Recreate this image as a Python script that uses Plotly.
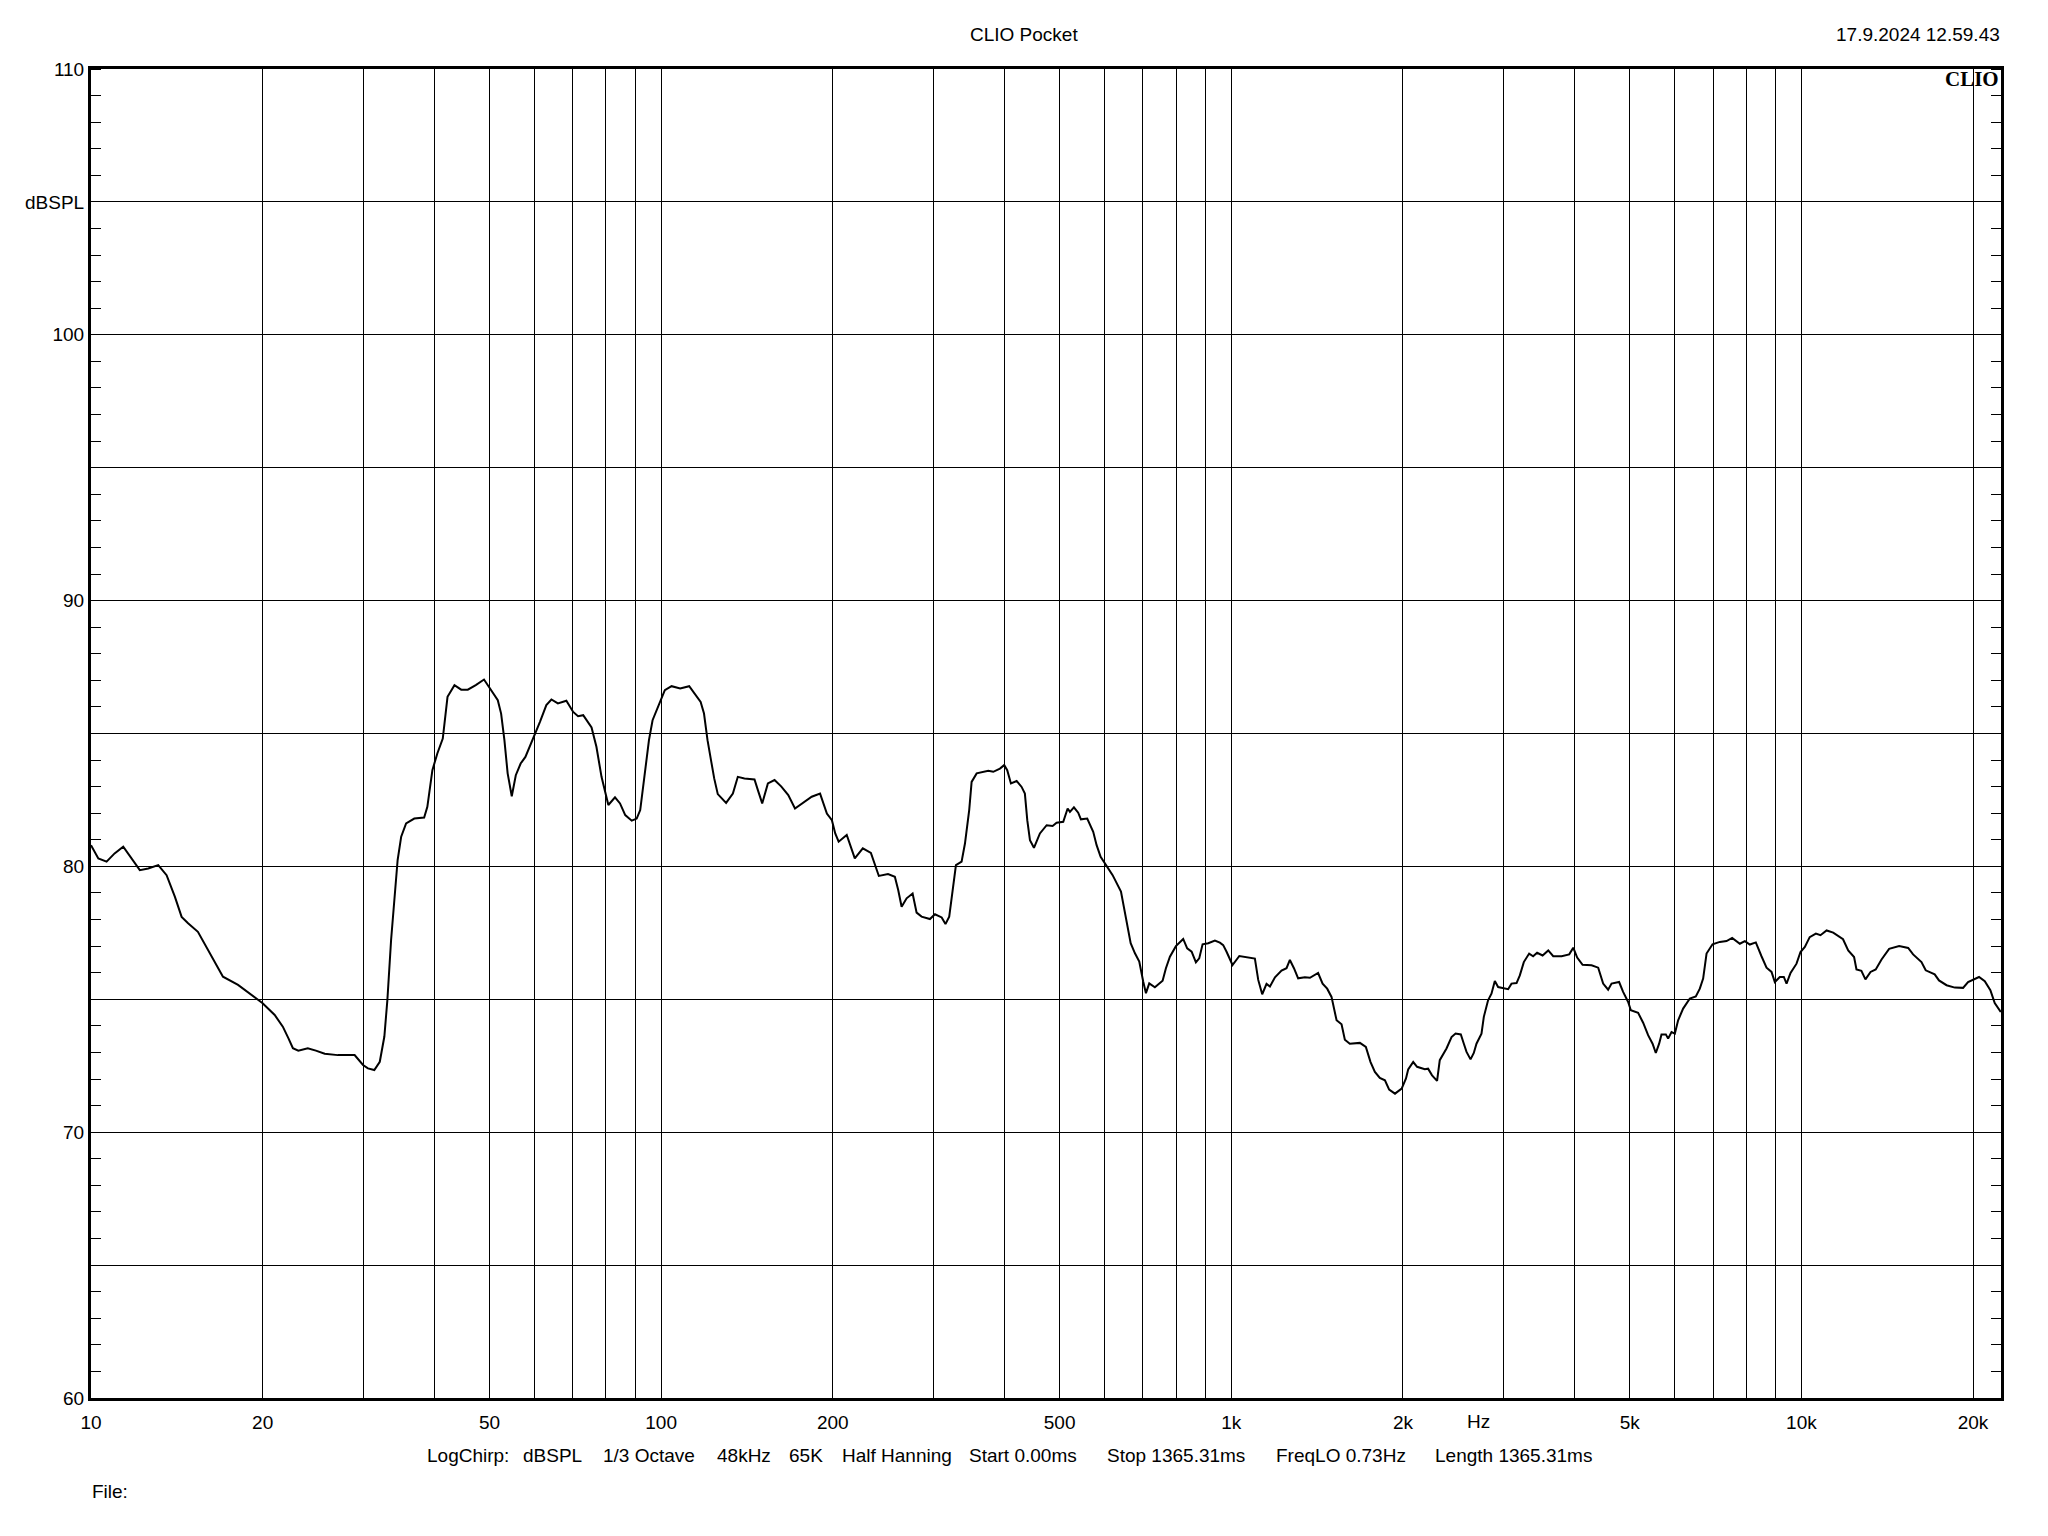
import math
import plotly.graph_objects as go

# ---------------- data ----------------
freq_hz = [
    10.0, 10.3, 10.65, 11.0, 11.39, 11.78, 12.18, 12.6, 13.12, 13.57,
    14.03, 14.42, 14.8, 15.4, 16.04, 16.37, 17.04, 18.11, 19.1, 20.0,
    21.0, 21.7, 22.2, 22.6, 23.1, 24.0, 24.8, 25.7, 27.1, 29.0,
    30.0, 30.6, 31.4, 32.1, 32.7, 33.1, 33.6, 34.1, 34.5, 35.0,
    35.7, 36.9, 38.4, 38.9, 39.7, 40.5, 41.4, 42.2, 43.4, 44.6,
    45.8, 47.3, 48.9, 50.0, 51.7, 52.4, 53.1, 53.8, 54.7, 55.6,
    56.7, 57.8, 59.7, 61.3, 62.9, 64.2, 65.9, 68.2, 70.1, 71.5,
    73.0, 75.5, 77.0, 78.6, 80.8, 83.0, 84.7, 86.5, 88.8, 90.6,
    91.9, 93.2, 95.2, 96.6, 99.4, 101.5, 104.3, 108, 112, 114.8,
    117.3, 118.9, 120.6, 122.3, 123.9, 125.7, 130, 133.6, 136.3, 140,
    145.8, 147.8, 150.4, 153.9, 158.1, 162.5, 167.1, 171.7, 176.5, 183.7,
    190, 195.3, 199.3, 202, 204.8, 211.6, 218.6, 225.8, 233.3, 240.9,
    250, 257.0, 260.5, 264.1, 269.5, 276.1, 280.6, 286.3, 296.1, 302.2,
    310.5, 315.3, 320.1, 324.5, 328.9, 336.5, 341.1, 347.0, 350.4, 357.6,
    374.8, 382.4, 392.9, 399.7, 404.6, 410.7, 420.3, 428.8, 434.5, 438.7,
    443.5, 450.7, 461.7, 474.4, 486.0, 493.9, 507.3, 516.4, 521.2, 529.7,
    538.9, 544.8, 558.9, 572.6, 580.5, 590.0, 602.8, 619.3, 640.5, 653.6,
    666.1, 677.7, 689.6, 700.8, 708.5, 718.0, 734.5, 757.8, 768.0, 780.5,
    799.6, 823.5, 836.9, 852.0, 866.9, 878.5, 890.6, 911.1, 936.0, 955.0,
    967.9, 981.1, 1005, 1033, 1071, 1100, 1115, 1133, 1153, 1169,
    1193, 1225, 1250, 1267, 1288, 1310, 1346, 1374, 1420, 1446,
    1473, 1499, 1530, 1561, 1582, 1614, 1681, 1722, 1755, 1786,
    1822, 1860, 1892, 1937, 1990, 2025, 2043, 2085, 2118, 2185,
    2214, 2250, 2296, 2321, 2385, 2434, 2474, 2527, 2558, 2586,
    2628, 2663, 2692, 2747, 2773, 2821, 2860, 2899, 2938, 3006,
    3059, 3101, 3165, 3207, 3259, 3330, 3384, 3439, 3516, 3597,
    3670, 3797, 3915, 3979, 4043, 4132, 4285, 4401, 4490, 4581,
    4645, 4789, 4867, 4967, 5021, 5171, 5277, 5384, 5482, 5554,
    5629, 5683, 5784, 5837, 5918, 5998, 6078, 6202, 6372, 6528,
    6634, 6724, 6817, 6984, 7193, 7391, 7560, 7798, 7958, 8120,
    8318, 8511, 8686, 8863, 8982, 9165, 9314, 9417, 9570, 9804,
    9963, 10140, 10340, 10600, 10800, 11070, 11370, 11830, 12080, 12370,
    12490, 12740, 12950, 13220, 13500, 13820, 14250, 14840, 15390, 15700,
    16240, 16520, 17130, 17430, 17970, 18580, 19210, 19600, 20490, 20970,
    21450, 21830, 22370,
]

spl_db = [
    80.8, 80.3, 80.18, 80.49, 80.74, 80.3, 79.86, 79.92, 80.05, 79.67,
    78.86, 78.1, 77.86, 77.54, 76.85, 76.48, 75.85, 75.54, 75.16, 74.85,
    74.41, 73.97, 73.53, 73.16, 73.07, 73.16, 73.07, 72.95, 72.9, 72.9,
    72.53, 72.4, 72.34, 72.65, 73.6, 74.97, 77.23, 78.98, 80.24, 81.12,
    81.62, 81.8, 81.84, 82.24, 83.62, 84.25, 84.81, 86.38, 86.82, 86.65,
    86.65, 86.82, 87.03, 86.72, 86.25, 85.75, 84.75, 83.5, 82.64, 83.43,
    83.87, 84.12, 84.81, 85.44, 86.07, 86.28, 86.13, 86.23, 85.81, 85.65,
    85.69, 85.23, 84.5, 83.37, 82.31, 82.6, 82.37, 81.93, 81.72, 81.8,
    82.12, 83.12, 84.75, 85.5, 86.19, 86.63, 86.78, 86.69, 86.78, 86.44,
    86.19, 85.75, 84.75, 84.0, 83.31, 82.72, 82.39, 82.74, 83.37, 83.31,
    83.27, 82.87, 82.37, 83.12, 83.25, 83.0, 82.68, 82.18, 82.37, 82.62,
    82.74, 81.99, 81.74, 81.24, 80.93, 81.18, 80.3, 80.68, 80.51, 79.64,
    79.71, 79.61, 79.11, 78.48, 78.8, 78.98, 78.26, 78.11, 78.02, 78.2,
    78.08, 77.83, 78.11, 79.11, 80.05, 80.18, 80.86, 82.12, 83.18, 83.5,
    83.6, 83.56, 83.68, 83.81, 83.62, 83.12, 83.21, 82.99, 82.74, 81.74,
    80.99, 80.7, 81.24, 81.55, 81.52, 81.64, 81.68, 82.18, 82.05, 82.22,
    82.02, 81.77, 81.8, 81.3, 80.8, 80.36, 80.04, 79.67, 79.05, 77.98,
    77.11, 76.73, 76.42, 75.66, 75.23, 75.6, 75.45, 75.7, 76.17, 76.6,
    77.0, 77.27, 76.92, 76.79, 76.39, 76.54, 77.07, 77.11, 77.21, 77.13,
    77.04, 76.79, 76.29, 76.63, 76.58, 76.53, 75.73, 75.19, 75.58, 75.48,
    75.83, 76.08, 76.17, 76.48, 76.17, 75.79, 75.83, 75.81, 75.99, 75.59,
    75.4, 75.09, 74.21, 74.06, 73.48, 73.33, 73.36, 73.21, 72.64, 72.27,
    72.04, 71.95, 71.6, 71.45, 71.64, 72.02, 72.36, 72.64, 72.46, 72.37,
    72.39, 72.14, 71.93, 72.71, 73.15, 73.58, 73.71, 73.68, 73.33, 73.02,
    72.74, 72.98, 73.33, 73.71, 74.34, 74.96, 75.21, 75.69, 75.46, 75.43,
    75.38, 75.59, 75.61, 75.9, 76.4, 76.72, 76.62, 76.75, 76.65, 76.84,
    76.62, 76.62, 76.69, 76.94, 76.57, 76.3, 76.28, 76.19, 75.59, 75.36,
    75.59, 75.65, 75.28, 74.9, 74.59, 74.49, 74.12, 73.65, 73.33, 72.98,
    73.33, 73.68, 73.68, 73.52, 73.77, 73.71, 74.21, 74.65, 75.03, 75.11,
    75.4, 75.78, 76.72, 77.07, 77.16, 77.19, 77.31, 77.09, 77.19, 77.06,
    77.14, 76.62, 76.19, 76.03, 75.65, 75.84, 75.84, 75.59, 75.99, 76.34,
    76.78, 76.97, 77.34, 77.47, 77.41, 77.59, 77.51, 77.26, 76.84, 76.59,
    76.12, 76.07, 75.75, 76.03, 76.12, 76.5, 76.9, 77.0, 76.93, 76.69,
    76.4, 76.09, 75.94, 75.71, 75.53, 75.44, 75.43, 75.65, 75.84, 75.68,
    75.34, 74.86, 74.52,
]

x_grid_hz = [10, 20, 30, 40, 50, 60, 70, 80, 90,
             100, 200, 300, 400, 500, 600, 700, 800, 900,
             1000, 2000, 3000, 4000, 5000, 6000, 7000, 8000, 9000,
             10000, 20000]
x_tick_labels = {10: "10", 20: "20", 50: "50", 100: "100", 200: "200", 500: "500",
                 1000: "1k", 2000: "2k", 5000: "5k", 10000: "10k", 20000: "20k"}
y_grid_db = [60, 65, 70, 75, 80, 85, 90, 95, 100, 105, 110]
y_tick_labels = {60: "60", 70: "70", 80: "80", 90: "90", 100: "100", 105: "dBSPL", 110: "110"}

title_text = "CLIO Pocket"
date_text = "17.9.2024 12.59.43"
logo_text = "CLIO"
unit_text = "Hz"
info_items = ["LogChirp:", "dBSPL", "1/3 Octave", "48kHz", "65K", "Half Hanning",
              "Start 0.00ms", "Stop 1365.31ms", "FreqLO 0.73Hz", "Length 1365.31ms"]
file_text = "File:"

# ---------------- layout ----------------
W, H = 2048, 1536
L, R, T, B = 91, 2001, 69, 1398
FONT = "Liberation Sans, Arial, sans-serif"
FS = 19


def px(xp):
    return (xp - L) / (R - L)


def py(yp):
    return (B - yp) / (B - T)


fig = go.Figure(go.Scatter(x=freq_hz, y=spl_db, mode="lines",
                           line=dict(color="black", width=2),
                           hoverinfo="skip"))

fig.update_layout(
    width=W, height=H,
    margin=dict(l=L, r=W - R, t=T, b=H - B, pad=0),
    paper_bgcolor="white", plot_bgcolor="white",
    showlegend=False,
    font=dict(family=FONT, size=FS, color="black"),
)

fig.update_xaxes(
    type="log", range=[1, math.log10(22390)],
    tickmode="array", tickvals=x_grid_hz,
    ticktext=[x_tick_labels.get(v, "") for v in x_grid_hz],
    showgrid=True, gridcolor="black", gridwidth=1,
    showline=True, linecolor="black", linewidth=3, mirror=True,
    ticks="", zeroline=False, ticklabelstandoff=5,
    tickfont=dict(family=FONT, size=FS, color="black"),
)

fig.update_yaxes(
    range=[60, 110],
    tickmode="array", tickvals=y_grid_db,
    ticktext=[y_tick_labels.get(v, "") for v in y_grid_db],
    showgrid=True, gridcolor="black", gridwidth=1,
    showline=True, linecolor="black", linewidth=3, mirror="allticks",
    ticks="", zeroline=False, ticklabelstandoff=0,
    minor=dict(ticks="inside", ticklen=10, tickwidth=1, tickcolor="black",
               tickmode="linear", tick0=60, dtick=1, showgrid=False),
    tickfont=dict(family=FONT, size=FS, color="black"),
)

ann = []
ann.append(dict(text=title_text, x=px(1024), y=py(35), xanchor="center", yanchor="middle"))
ann.append(dict(text=date_text, x=px(2002), y=py(35), xanchor="right", yanchor="middle"))
ann.append(dict(text="<b>" + logo_text + "</b>", x=px(2001), y=py(79), xanchor="right",
                yanchor="middle",
                font=dict(family="Liberation Serif, Times New Roman, serif", size=21, color="black")))
ann.append(dict(text=unit_text, x=px(1478), y=py(1421), xanchor="center", yanchor="middle"))
info_x = [425, 521, 601, 715, 787, 840, 967, 1105, 1274, 1433]
for t, xp in zip(info_items, info_x):
    ann.append(dict(text=t, x=px(xp), y=py(1455), xanchor="left", yanchor="middle"))
ann.append(dict(text=file_text, x=px(90), y=py(1491), xanchor="left", yanchor="middle"))

for a in ann:
    a.update(xref="paper", yref="paper", showarrow=False)
    a.setdefault("font", dict(family=FONT, size=FS, color="black"))

fig.update_layout(annotations=ann)

fig.write_html("out.html",
               config={"displayModeBar": False},
               post_script="document.body.style.margin='0px';document.body.style.padding='0px';")
